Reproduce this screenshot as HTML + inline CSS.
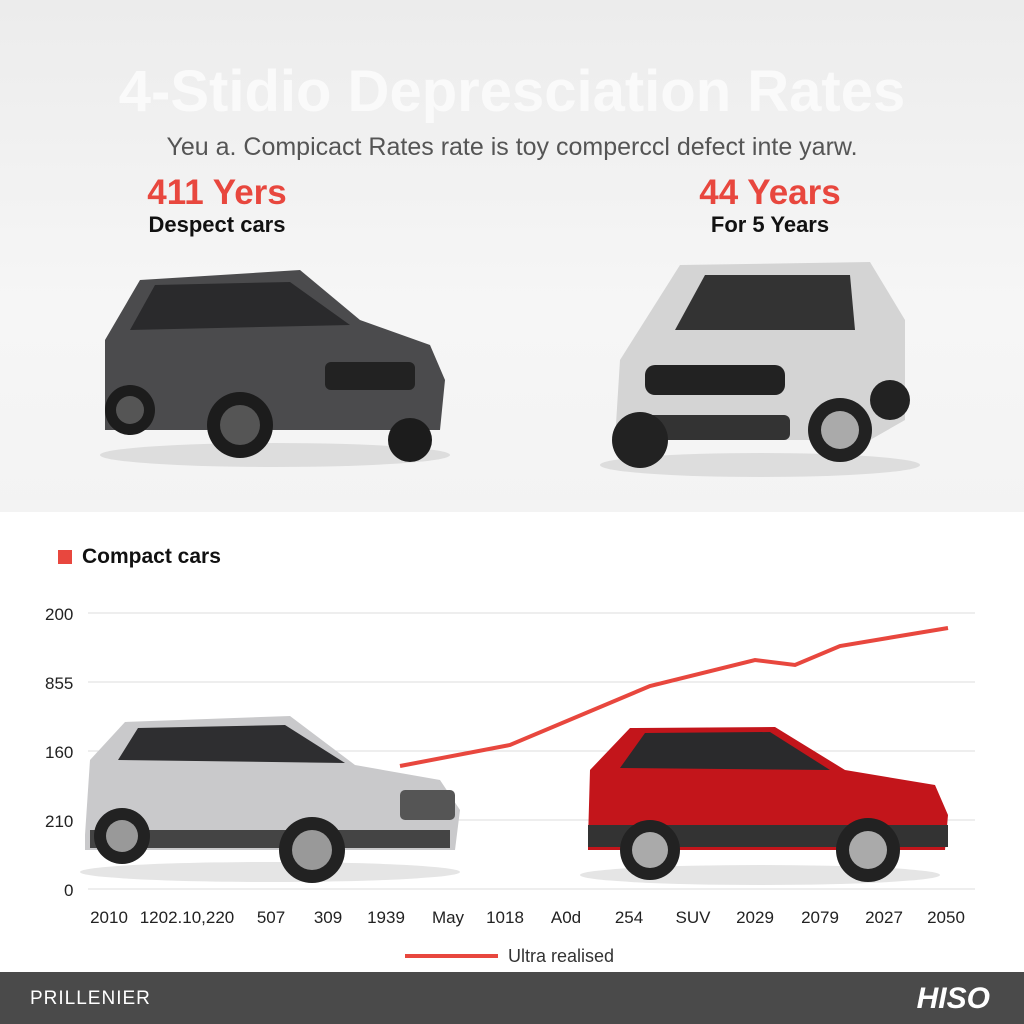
<!DOCTYPE html>
<html><head><meta charset="utf-8">
<style>
body{margin:0;width:1024px;height:1024px;overflow:hidden;font-family:"Liberation Sans",sans-serif;background:#fff;position:relative}
.top{position:absolute;left:0;top:0;width:1024px;height:512px;background:linear-gradient(#ececec,#f6f6f6 60%,#f3f3f3)}
.t{position:absolute;white-space:nowrap}
</style></head><body>
<div class="top"></div>
<div class="t" style="left:0;width:1024px;text-align:center;top:58px;font-size:58px;font-weight:bold;color:#fafafa">4-Stidio Depresciation Rates</div>
<div class="t" style="left:0;width:1024px;text-align:center;top:133px;font-size:25px;color:#555">Yeu a. Compicact Rates rate is toy comperccl defect inte yarw.</div>
<div class="t" style="left:117px;width:200px;text-align:center;top:173px;font-size:35px;font-weight:bold;color:#e8473e">411 Yers</div>
<div class="t" style="left:117px;width:200px;text-align:center;top:212px;font-size:22px;font-weight:bold;color:#111">Despect cars</div>
<div class="t" style="left:670px;width:200px;text-align:center;top:173px;font-size:35px;font-weight:bold;color:#e8473e">44 Years</div>
<div class="t" style="left:670px;width:200px;text-align:center;top:212px;font-size:22px;font-weight:bold;color:#111">For 5 Years</div>

<svg width="1024" height="1024" style="position:absolute;left:0;top:0">
<!-- top-left dark SUV -->
<g>
<ellipse cx="275" cy="455" rx="175" ry="12" fill="#ddd"/>
<path d="M105 420 L105 340 L140 280 L300 270 L360 320 L430 345 L445 380 L440 430 L105 430Z" fill="#4b4b4d"/>
<path d="M130 330 L155 285 L290 282 L350 325Z" fill="#2a2a2c"/>
<rect x="325" y="362" width="90" height="28" rx="6" fill="#222"/>
<circle cx="240" cy="425" r="33" fill="#1c1c1c"/><circle cx="240" cy="425" r="20" fill="#555"/>
<circle cx="130" cy="410" r="25" fill="#1c1c1c"/><circle cx="130" cy="410" r="14" fill="#555"/>
<circle cx="410" cy="440" r="22" fill="#1c1c1c"/>
</g>
<!-- top-right silver -->
<g>
<ellipse cx="760" cy="465" rx="160" ry="12" fill="#ddd"/>
<path d="M615 440 L620 360 L680 265 L870 262 L905 320 L905 420 L870 440Z" fill="#d4d4d4"/>
<path d="M675 330 L705 275 L850 275 L855 330Z" fill="#333"/>
<rect x="645" y="365" width="140" height="30" rx="10" fill="#222"/>
<rect x="640" y="415" width="150" height="25" rx="6" fill="#333"/>
<circle cx="840" cy="430" r="32" fill="#222"/><circle cx="840" cy="430" r="19" fill="#aaa"/>
<circle cx="640" cy="440" r="28" fill="#222"/>
<circle cx="890" cy="400" r="20" fill="#222"/>
</g>

<!-- chart grid -->
<g stroke="#dcdcdc" stroke-width="1">
<line x1="88" y1="613" x2="975" y2="613"/><line x1="88" y1="682" x2="975" y2="682"/>
<line x1="88" y1="751" x2="975" y2="751"/><line x1="88" y1="820" x2="975" y2="820"/>
<line x1="88" y1="889" x2="975" y2="889"/>
</g>
<g font-size="17" fill="#222" font-family="Liberation Sans">
<text x="45" y="620">200</text><text x="45" y="689">855</text><text x="45" y="758">160</text><text x="45" y="827">210</text><text x="64" y="896">0</text>
<g text-anchor="middle">
<text x="109" y="923">2010</text><text x="187" y="923">1202.10,220</text><text x="271" y="923">507</text><text x="328" y="923">309</text><text x="386" y="923">1939</text><text x="448" y="923">May</text><text x="505" y="923">1018</text><text x="566" y="923">A0d</text><text x="629" y="923">254</text><text x="693" y="923">SUV</text><text x="755" y="923">2029</text><text x="820" y="923">2079</text><text x="884" y="923">2027</text><text x="946" y="923">2050</text>
</g></g>
<polyline points="400,766 510,745 650,686 755,660 795,665 840,646 948,628" fill="none" stroke="#e8473e" stroke-width="4"/>
<rect x="58" y="550" width="14" height="14" fill="#e8473e"/>

<!-- chart silver car -->
<g>
<ellipse cx="270" cy="872" rx="190" ry="10" fill="#e5e5e5"/>
<path d="M85 835 L90 760 L125 722 L290 716 L355 765 L440 780 L460 810 L455 850 L85 850Z" fill="#c9c9cb"/>
<path d="M118 760 L138 728 L285 725 L345 763Z" fill="#2e2e30"/>
<rect x="400" y="790" width="55" height="30" rx="5" fill="#555"/>
<rect x="90" y="830" width="360" height="18" fill="#444"/>
<circle cx="312" cy="850" r="33" fill="#222"/><circle cx="312" cy="850" r="20" fill="#999"/>
<circle cx="122" cy="836" r="28" fill="#222"/><circle cx="122" cy="836" r="16" fill="#999"/>
</g>
<!-- chart red car -->
<g>
<ellipse cx="760" cy="875" rx="180" ry="10" fill="#e5e5e5"/>
<path d="M588 840 L590 770 L630 728 L775 727 L845 770 L935 785 L948 815 L945 850 L588 850Z" fill="#c3151b"/>
<path d="M620 768 L645 733 L770 732 L830 770Z" fill="#2a2a2c"/>
<rect x="588" y="825" width="360" height="22" fill="#333"/>
<circle cx="650" cy="850" r="30" fill="#222"/><circle cx="650" cy="850" r="18" fill="#aaa"/>
<circle cx="868" cy="850" r="32" fill="#222"/><circle cx="868" cy="850" r="19" fill="#aaa"/>
</g>

<line x1="405" y1="956" x2="498" y2="956" stroke="#e8473e" stroke-width="4"/>
<text x="508" y="962" font-size="18" fill="#333" font-family="Liberation Sans">Ultra realised</text>
<rect x="0" y="972" width="1024" height="52" fill="#4a4a4a"/>
<text x="30" y="1004" font-size="19" fill="#fff" font-family="Liberation Sans" letter-spacing="1">PRILLENIER</text>
<text x="990" y="1008" font-size="30" fill="#fff" font-weight="bold" font-style="italic" text-anchor="end" font-family="Liberation Sans">HISO</text>
</svg>
<div class="t" style="left:82px;top:545px;font-size:21px;font-weight:bold;color:#111">Compact cars</div>
</body></html>
